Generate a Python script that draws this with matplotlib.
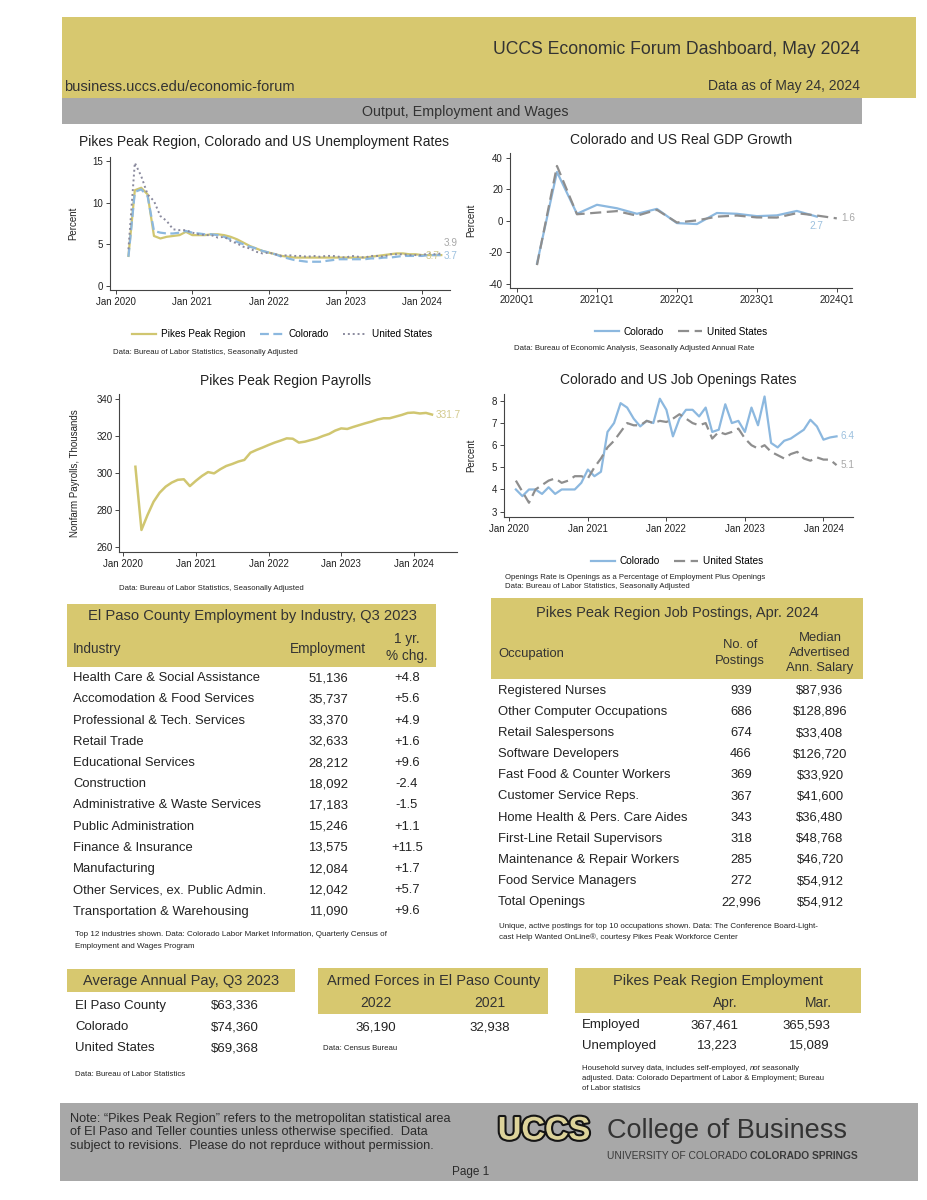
import matplotlib
matplotlib.use("Agg")
import matplotlib.pyplot as plt
import matplotlib.patheffects as pe
from matplotlib.patches import Rectangle
import numpy as np
import pandas as pd

plt.rcParams['font.family'] = ['Liberation Sans', 'DejaVu Sans']
plt.rcParams['axes.unicode_minus'] = False

# ---------------- data ----------------
ur_start, ur_end = "2020-03", "2024-04"
unemp_ppr = [3.6, 11.5, 11.8, 11.0, 6.0, 5.7, 5.9, 6.0, 6.1, 6.5,
             6.1, 6.1, 6.1, 6.2, 6.2, 6.1, 5.9, 5.6, 5.2, 4.8, 4.5, 4.2,
             4.0, 3.8, 3.6, 3.5, 3.4, 3.4, 3.4, 3.4, 3.4, 3.4, 3.4, 3.4,
             3.4, 3.4, 3.4, 3.4, 3.5, 3.6, 3.7, 3.8, 3.9, 3.9, 3.8, 3.8,
             3.7, 3.7, 3.7, 3.7]
unemp_co = [3.5, 11.3, 11.6, 10.8, 6.6, 6.4, 6.3, 6.3, 6.4, 6.6,
            6.4, 6.3, 6.2, 6.2, 6.1, 5.9, 5.6, 5.3, 5.0, 4.7, 4.5, 4.2,
            4.0, 3.8, 3.5, 3.3, 3.1, 3.0, 2.9, 2.9, 2.9, 3.0, 3.1, 3.2,
            3.2, 3.2, 3.2, 3.2, 3.3, 3.3, 3.4, 3.4, 3.5, 3.6, 3.6, 3.6,
            3.6, 3.7, 3.7, 3.7]
unemp_us = [4.4, 14.8, 13.2, 11.0, 10.2, 8.4, 7.8, 6.8, 6.7, 6.7,
            6.4, 6.2, 6.1, 6.1, 5.8, 5.9, 5.4, 5.1, 4.7, 4.5, 4.1, 3.9,
            4.0, 3.8, 3.6, 3.7, 3.6, 3.6, 3.5, 3.6, 3.5, 3.6, 3.6, 3.5,
            3.4, 3.6, 3.5, 3.4, 3.6, 3.6, 3.5, 3.8, 3.8, 3.8, 3.7, 3.7,
            3.7, 3.9, 3.8, 3.9]

gdp_quarters = ["2020Q2", "2020Q3", "2020Q4", "2021Q1", "2021Q2", "2021Q3", "2021Q4",
                "2022Q1", "2022Q2", "2022Q3", "2022Q4", "2023Q1", "2023Q2", "2023Q3",
                "2023Q4", "2024Q1"]
gdp_co = [-27.0, 31.0, 4.5, 10.2, 8.0, 4.5, 7.6, -1.4, -2.0, 5.0, 4.5, 3.0, 3.5, 6.3, 2.7, np.nan]
gdp_us = [-28.0, 34.8, 4.2, 5.2, 6.2, 3.3, 7.0, -1.0, 0.3, 2.7, 3.4, 2.2, 2.1, 4.9, 3.4, 1.6]

pay_start, pay_end = "2020-03", "2024-04"
payrolls = [303.4, 269.1, 277.2, 284.4, 289.3, 292.6, 294.8, 296.3, 296.6, 292.9,
            295.8, 298.4, 300.5, 299.8, 302.0, 303.8, 304.9, 306.2, 307.1, 311.0, 312.5, 313.8,
            315.2, 316.5, 317.6, 318.8, 318.6, 316.5, 317.0, 317.9, 318.8, 320.1, 321.2, 323.0,
            324.2, 323.9, 325.0, 326.0, 327.0, 327.9, 329.0, 329.7, 329.7, 330.6, 331.5, 332.6,
            332.8, 332.3, 332.6, 331.7]

jo_start, jo_end = "2020-02", "2024-03"
jo_co = [4.0, 3.7, 4.0, 4.0, 3.8, 4.1, 3.8, 4.0, 4.0, 4.0, 4.3,
         4.9, 4.6, 4.8, 6.6, 7.0, 7.9, 7.7, 7.2, 6.85, 7.1, 7.0, 8.1,
         7.6, 6.4, 7.2, 7.6, 7.6, 7.3, 7.7, 6.6, 6.7, 7.85, 7.0, 7.1,
         6.6, 7.7, 6.9, 8.2, 6.1, 5.9, 6.2, 6.3, 6.5, 6.7, 7.15, 6.85,
         6.25, 6.35, 6.4]
jo_us = [4.4, 3.9, 3.4, 4.0, 4.2, 4.4, 4.5, 4.3, 4.4, 4.6, 4.6,
         4.5, 5.0, 5.4, 5.9, 6.2, 6.6, 7.0, 6.9, 6.9, 7.1, 7.0, 7.1,
         7.05, 7.2, 7.4, 7.2, 7.0, 6.9, 7.0, 6.3, 6.6, 6.5, 6.6, 6.75,
         6.3, 6.0, 5.85, 6.0, 5.7, 5.55, 5.4, 5.6, 5.7, 5.4, 5.3, 5.45,
         5.35, 5.35, 5.1]

industries = ["Health Care & Social Assistance", "Accomodation & Food Services",
              "Professional & Tech. Services", "Retail Trade", "Educational Services",
              "Construction", "Administrative & Waste Services", "Public Administration",
              "Finance & Insurance", "Manufacturing", "Other Services, ex. Public Admin.",
              "Transportation & Warehousing"]
ind_employment = [51136, 35737, 33370, 32633, 28212, 18092, 17183, 15246, 13575, 12084, 12042, 11090]
ind_change = [4.8, 5.6, 4.9, 1.6, 9.6, -2.4, -1.5, 1.1, 11.5, 1.7, 5.7, 9.6]

occupations = ["Registered Nurses", "Other Computer Occupations", "Retail Salespersons",
               "Software Developers", "Fast Food & Counter Workers", "Customer Service Reps.",
               "Home Health & Pers. Care Aides", "First-Line Retail Supervisors",
               "Maintenance & Repair Workers", "Food Service Managers", "Total Openings"]
postings = [939, 686, 674, 466, 369, 367, 343, 318, 285, 272, 22996]
salaries = [87936, 128896, 33408, 126720, 33920, 41600, 36480, 48768, 46720, 54912, 54912]

pay_areas = ["El Paso County", "Colorado", "United States"]
pay_values = [63336, 74360, 69368]

armed_years = ["2022", "2021"]
armed_values = [36190, 32938]

emp_months = ["Apr.", "Mar."]
emp_rows = ["Employed", "Unemployed"]
emp_values = [[367461, 365593], [13223, 15089]]

# ---------------- helpers ----------------
W, H = 927, 1200
fig = plt.figure(figsize=(W / 100, H / 100), dpi=100)
fig.patch.set_facecolor('white')

GOLD = '#d7c86f'
GRAY = '#a9a9a9'
C_GOLD = '#d0c670'
C_BLUE = '#8cb8df'
C_GRAY = '#8e8e8e'
C_DOT = '#8a8a9e'
NOTE = 5.6


def fx(x):
    return x / W


def fy(y):
    return 1 - y / H


def band(x0, y0, x1, y1, c):
    fig.add_artist(Rectangle((fx(x0), fy(y1)), (x1 - x0) / W, (y1 - y0) / H,
                             transform=fig.transFigure, facecolor=c,
                             edgecolor='none', zorder=0))


def T(x, y, s, size, ha='left', va='center', color='#222222', **kw):
    return fig.text(fx(x), fy(y), s, fontsize=size, ha=ha, va=va, color=color, **kw)


def axes_px(l, t, r, b):
    return fig.add_axes([fx(l), fy(b), (r - l) / W, (b - t) / H])


def dec_year(start, end):
    d = pd.date_range(start, end, freq='MS')
    return np.array(d.year + (d.month - 1) / 12.0)


def style(ax):
    for s in ['top', 'right']:
        ax.spines[s].set_visible(False)
    for s in ['left', 'bottom']:
        ax.spines[s].set_color('#444444')
        ax.spines[s].set_linewidth(0.8)
    ax.tick_params(labelsize=7, length=3, width=0.7, colors='#444444',
                   labelcolor='#222222', pad=2)
    ax.patch.set_alpha(0)


def end_label(ax, x, y, color, dx, dy, ha='left'):
    ax.annotate(f"{y:.1f}", (x, y), xytext=(dx, dy), textcoords='offset pixels',
                ha=ha, va='center', fontsize=7.2, color=color, annotation_clip=False)


def legend(handles, labels, xc, yc):
    fig.legend(handles, labels, loc='center', bbox_to_anchor=(fx(xc), fy(yc)),
               ncol=len(handles), frameon=False, fontsize=7.2,
               handlelength=2.4, columnspacing=1.4, handletextpad=0.5)


years = [2020, 2021, 2022, 2023, 2024]

# ---------------- header ----------------
band(62, 17, 916, 98, GOLD)
band(62, 98, 862, 124, GRAY)
T(860, 50, 'UCCS Economic Forum Dashboard, May 2024', 12.7, ha='right', color='#333333')
T(64, 87, 'business.uccs.edu/economic-forum', 10.5, color='#333333')
T(860, 86, 'Data as of May 24, 2024', 10, ha='right', color='#333333')
T(465, 112, 'Output, Employment and Wages', 10.3, ha='center', color='#333333')

# ---------------- chart 1: unemployment ----------------
ax1 = axes_px(110, 157, 450, 290)
style(ax1)
xu = dec_year(ur_start, ur_end)
l1, = ax1.plot(xu, unemp_ppr, color=C_GOLD, lw=1.6, label='Pikes Peak Region')
l2, = ax1.plot(xu, unemp_co, color=C_BLUE, lw=1.6, dashes=(4, 2), label='Colorado')
l3, = ax1.plot(xu, unemp_us, color=C_DOT, lw=1.4, dashes=(1, 1.5), label='United States')
ax1.set_xlim(2019.926, 2024.364)
ax1.set_ylim(-0.5, 15.5)
ax1.set_yticks([0, 5, 10, 15])
ax1.set_xticks(years)
ax1.set_xticklabels([f"Jan {y}" for y in years])
ax1.set_ylabel('Percent', fontsize=7, color='#222222')
ax1.yaxis.set_label_coords(-0.094, 0.5)
end_label(ax1, xu[-1], unemp_us[-1], '#a8a8a8', 2, 10)
end_label(ax1, xu[-1], unemp_ppr[-1], '#d2c98c', -9, -1, ha='center')
end_label(ax1, xu[-1], unemp_co[-1], '#9cc0de', 2, -1)
T(264, 142, 'Pikes Peak Region, Colorado and US Unemployment Rates', 10, ha='center')
legend([l1, l2, l3], [l.get_label() for l in (l1, l2, l3)], 282, 334)
T(113, 352, 'Data: Bureau of Labor Statistics, Seasonally Adjusted', NOTE)

# ---------------- chart 2: GDP ----------------
ax2 = axes_px(510, 153, 852, 288)
style(ax2)
xq = np.array([int(q[:4]) + (int(q[-1]) - 1) / 4.0 for q in gdp_quarters])
g1, = ax2.plot(xq, gdp_co, color=C_BLUE, lw=1.6, label='Colorado')
g2, = ax2.plot(xq, gdp_us, color=C_GRAY, lw=1.6, dashes=(5, 2.5), label='United States')
ax2.set_xlim(2019.9125, 2024.19)
ax2.set_ylim(-42.5, 43)
ax2.set_yticks([-40, -20, 0, 20, 40])
ax2.set_xticks(years)
ax2.set_xticklabels([f"{y}Q1" for y in years])
ax2.set_ylabel('Percent', fontsize=7, color='#222222')
ax2.yaxis.set_label_coords(-0.1, 0.5)
i_co = np.where(~np.isnan(gdp_co))[0][-1]
end_label(ax2, xq[i_co], gdp_co[i_co], '#9cc0de', 0, -9, ha='center')
end_label(ax2, xq[-1], gdp_us[-1], '#a8a8a8', 4, 0)
T(681, 140, 'Colorado and US Real GDP Growth', 10, ha='center')
legend([g1, g2], ['Colorado', 'United States'], 681, 332)
T(514, 349, 'Data: Bureau of Economic Analysis, Seasonally Adjusted Annual Rate', NOTE)

# ---------------- chart 3: payrolls ----------------
ax3 = axes_px(119.3, 394.3, 456.7, 551.7)
style(ax3)
xp = dec_year(pay_start, pay_end)
ax3.plot(xp, payrolls, color=C_GOLD, lw=1.8)
ax3.set_xlim(2019.945, 2024.59)
ax3.set_ylim(257.3, 342.7)
ax3.set_yticks([260, 280, 300, 320, 340])
ax3.set_xticks(years)
ax3.set_xticklabels([f"Jan {y}" for y in years])
ax3.set_ylabel('Nonfarm Payrolls, Thousands', fontsize=7, color='#222222')
ax3.yaxis.set_label_coords(-0.117, 0.5)
end_label(ax3, xp[-1], payrolls[-1], '#d2c98c', 4, 0)
T(286, 381, 'Pikes Peak Region Payrolls', 10, ha='center')
T(119, 589, 'Data: Bureau of Labor Statistics, Seasonally Adjusted', NOTE)

# ---------------- chart 4: job openings ----------------
ax4 = axes_px(504.3, 394.3, 853.3, 516.7)
style(ax4)
xj = dec_year(jo_start, jo_end)
j1, = ax4.plot(xj, jo_co, color=C_BLUE, lw=1.6, label='Colorado')
j2, = ax4.plot(xj, jo_us, color=C_GRAY, lw=1.6, dashes=(5, 2.5), label='United States')
ax4.set_xlim(2019.936, 2024.38)
ax4.set_ylim(2.77, 8.3)
ax4.set_yticks([3, 4, 5, 6, 7, 8])
ax4.set_xticks(years)
ax4.set_xticklabels([f"Jan {y}" for y in years])
ax4.set_ylabel('Percent', fontsize=7, color='#222222')
ax4.yaxis.set_label_coords(-0.08, 0.5)
end_label(ax4, xj[-1], jo_co[-1], '#9cc0de', 4, 0)
end_label(ax4, xj[-1], jo_us[-1], '#a8a8a8', 4, 0)
T(678, 380, 'Colorado and US Job Openings Rates', 10, ha='center')
legend([j1, j2], ['Colorado', 'United States'], 677, 561)
T(505, 577.5, 'Openings Rate is Openings as a Percentage of Employment Plus Openings', NOTE)
T(505, 586, 'Data: Bureau of Labor Statistics, Seasonally Adjusted', NOTE)

# ---------------- table 1: industries ----------------
band(67, 604, 436, 667, GOLD)
T(252, 616, 'El Paso County Employment by Industry, Q3 2023', 10.6, ha='center', color='#333333')
T(73, 649, 'Industry', 9.8, color='#333333')
T(328, 649, 'Employment', 9.8, ha='center', color='#333333')
T(407, 639, '1 yr.', 9.8, ha='center', color='#333333')
T(407, 656, '% chg.', 9.8, ha='center', color='#333333')
for i, (nm, e, c) in enumerate(zip(industries, ind_employment, ind_change)):
    y = 678.3 + i * 21.2
    T(73, y, nm, 9.4)
    T(348, y, f"{e:,}", 9.4, ha='right')
    T(407, y, f"{c:+.1f}", 9.4, ha='center')
T(75, 935, 'Top 12 industries shown. Data: Colorado Labor Market Information, Quarterly Census of', 5.8)
T(75, 946, 'Employment and Wages Program', 5.8)

# ---------------- table 2: postings ----------------
band(491, 598, 863, 679, GOLD)
T(677, 613, 'Pikes Peak Region Job Postings, Apr. 2024', 10.5, ha='center', color='#333333')
T(498, 654, 'Occupation', 9.4, color='#333333')
T(740, 645, 'No. of', 9.4, ha='center', color='#333333')
T(740, 661, 'Postings', 9.4, ha='center', color='#333333')
T(820, 638, 'Median', 9.4, ha='center', color='#333333')
T(820, 653, 'Advertised', 9.4, ha='center', color='#333333')
T(820, 668, 'Ann. Salary', 9.4, ha='center', color='#333333')
for i, (oc, n, s) in enumerate(zip(occupations, postings, salaries)):
    y = 690.7 + i * 21.16
    T(498, y, oc, 9.4)
    T(741, y, f"{n:,}", 9.4, ha='center')
    T(820, y, f"${s:,}", 9.4, ha='center')
T(499, 926, 'Unique, active postings for top 10 occupations shown. Data: The Conference Board-Light-', 5.8)
T(499, 937, 'cast Help Wanted OnLine\u00ae, courtesy Pikes Peak Workforce Center', 5.8)

# ---------------- bottom boxes ----------------
band(67, 969, 295, 992, GOLD)
T(181, 981, 'Average Annual Pay, Q3 2023', 10.5, ha='center', color='#333333')
for i, (a, v) in enumerate(zip(pay_areas, pay_values)):
    y = 1006 + i * 21.2
    T(75, y, a, 9.5)
    T(259, y, f"${v:,}", 9.5, ha='right')
T(75, 1074, 'Data: Bureau of Labor Statistics', NOTE)

band(318, 968, 548, 1014, GOLD)
T(434, 981, 'Armed Forces in El Paso County', 10.5, ha='center', color='#333333')
for xc, yr, v in zip([376, 490], armed_years, armed_values):
    T(xc, 1003, yr, 10, ha='center', color='#333333')
    T(xc, 1027, f"{v:,}", 9.5, ha='center')
T(323, 1049, 'Data: Census Bureau', NOTE)

band(575, 968, 861, 1013, GOLD)
T(718, 981, 'Pikes Peak Region Employment', 10.5, ha='center', color='#333333')
for xr, m in zip([738, 832], emp_months):
    T(xr, 1003, m, 10, ha='right', color='#333333')
for i, (r, vals) in enumerate(zip(emp_rows, emp_values)):
    y = 1025 + i * 20.5
    T(582, y, r, 9.5)
    for xr, v in zip([738, 830], vals):
        T(xr, y, f"{v:,}", 9.5, ha='right')

renderer = fig.canvas.get_renderer()


def inline(x, y, parts, size, color='#222222'):
    cx = x
    for s, kw in parts:
        t = T(cx, y, s, size, color=color, **kw)
        bb = t.get_window_extent(renderer=renderer)
        cx += bb.width
    return cx


inline(582, 1068, [('Household survey data, includes self-employed, ', {}),
                   ('not', {'style': 'italic'}), (' seasonally', {})], NOTE)
T(582, 1079, 'adjusted. Data: Colorado Department of Labor & Employment; Bureau', NOTE)
T(582, 1089, 'of Labor statisics', NOTE)

# ---------------- footer ----------------
band(60, 1103, 918, 1181, '#a8a8a8')
T(70, 1119, 'Note: \u201cPikes Peak Region\u201d refers to the metropolitan statistical area', 9.2, color='#2a2a2a')
T(70, 1132.5, 'of El Paso and Teller counties unless otherwise specified.  Data', 9.2, color='#2a2a2a')
T(70, 1146, 'subject to revisions.  Please do not reprduce without permission.', 9.2, color='#2a2a2a')
T(471, 1172, 'Page 1', 8.5, ha='center', color='#2a2a2a')
T(544, 1131, 'UCCS', 23.5, ha='center', weight='heavy', color='#ddd39a',
  path_effects=[pe.withStroke(linewidth=3, foreground='#151515')])
T(607, 1131, 'College of Business', 19.5, color='#333333')
inline(607, 1156, [('UNIVERSITY OF COLORADO ', {}),
                   ('COLORADO SPRINGS', {'weight': 'bold'})], 7.4, color='#3a3a3a')

fig.savefig('out.png', dpi=100, facecolor='white')
